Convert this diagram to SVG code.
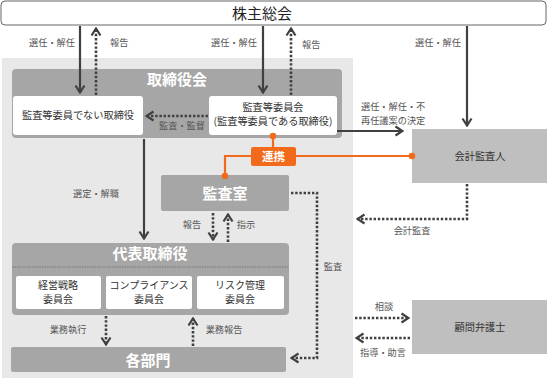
<svg xmlns="http://www.w3.org/2000/svg" width="547" height="380" viewBox="0 0 547 380">
<defs>
<style>
text{font-family:"Noto Sans CJK JP","Noto Sans CJK SC",sans-serif;}
.lbl{font-size:9.2px;fill:#555;}
.ttl{font-size:15px;font-weight:bold;fill:#fff;}
.wt{font-size:10.2px;fill:#333;}
.sb{font-size:10px;fill:#333;}
.solid{stroke:#404040;stroke-width:2.2;fill:none;}
.dot{stroke:#404040;stroke-width:2.6;fill:none;stroke-dasharray:2.4 1.8;}
.or{stroke:#f26b1d;stroke-width:2.2;fill:none;}
</style>
<marker id="ah" viewBox="0 0 10 12" refX="9" refY="6" markerWidth="10" markerHeight="12" markerUnits="userSpaceOnUse" orient="auto">
<path d="M1.5,1.5 L8.5,6 L1.5,10.5" fill="none" stroke="#404040" stroke-width="2.2"/>
</marker>
</defs>
<rect x="0" y="0" width="547" height="380" fill="#fff"/>
<rect id="bg" x="2" y="58" width="351" height="320" fill="#e8e8e8"/>

<g id="shareholders">
<rect x="1" y="1" width="545" height="24" rx="4" fill="#fff" stroke="#666" stroke-width="1"/>
<text x="262" y="18.5" font-size="15" fill="#222" text-anchor="middle">株主総会</text>
</g>

<g id="board">
<rect x="12" y="69" width="330" height="69" rx="4" fill="#a6a6a6"/>
<text class="ttl" x="177" y="85" text-anchor="middle">取締役会</text>
</g>
<g id="nonaudit">
<rect x="13" y="96" width="130" height="39" rx="3" fill="#fff"/>
<text class="wt" x="78" y="119" text-anchor="middle">監査等委員でない取締役</text>
</g>
<g id="auditcommittee">
<rect x="209" y="96" width="128" height="39" rx="3" fill="#fff"/>
<text class="wt" x="273" y="111" text-anchor="middle">監査等委員会</text>
<text class="wt" x="273" y="125" text-anchor="middle">(監査等委員である取締役)</text>
</g>
<g id="accountant">
<rect x="412" y="129" width="135" height="54" fill="#bfbfbf"/>
<text class="wt" x="480" y="160" text-anchor="middle">会計監査人</text>
</g>
<g id="auditoffice">
<rect x="161" y="175" width="128" height="36" rx="2" fill="#a6a6a6"/>
<text class="ttl" x="225" y="198.5" text-anchor="middle">監査室</text>
</g>
<g id="representative">
<rect x="12" y="243" width="277" height="72" rx="4" fill="#a6a6a6"/>
<text class="ttl" x="150" y="259" text-anchor="middle">代表取締役</text>
<line x1="12" y1="267" x2="289" y2="267" stroke="#777" stroke-width="1" stroke-dasharray="1.5 1"/>
</g>
<g id="strategy">
<rect x="16" y="276" width="85" height="33" rx="2" fill="#fff"/>
<text class="sb" x="58" y="289" text-anchor="middle">経営戦略</text>
<text class="sb" x="58" y="303" text-anchor="middle">委員会</text>
</g>
<g id="compliance">
<rect x="106" y="276" width="86" height="33" rx="2" fill="#fff"/>
<text class="sb" x="149" y="289" text-anchor="middle">コンプライアンス</text>
<text class="sb" x="149" y="303" text-anchor="middle">委員会</text>
</g>
<g id="risk">
<rect x="197" y="276" width="87" height="33" rx="2" fill="#fff"/>
<text class="sb" x="240" y="289" text-anchor="middle">リスク管理</text>
<text class="sb" x="240" y="303" text-anchor="middle">委員会</text>
</g>
<g id="departments">
<rect x="11" y="347" width="275" height="25" rx="2" fill="#a6a6a6"/>
<text class="ttl" x="148" y="365.5" text-anchor="middle">各部門</text>
</g>
<g id="lawyer">
<rect x="412" y="300" width="135" height="54" fill="#bfbfbf"/>
<text class="wt" x="480" y="331" text-anchor="middle">顧問弁護士</text>
</g>

<g id="connectors">
<line class="solid" x1="80" y1="26" x2="80" y2="93" marker-end="url(#ah)"/>
<line class="dot" x1="96" y1="95" x2="96" y2="28" marker-end="url(#ah)"/>
<line class="solid" x1="263" y1="26" x2="263" y2="93" marker-end="url(#ah)"/>
<line class="dot" x1="291" y1="95" x2="291" y2="28" marker-end="url(#ah)"/>
<line class="solid" x1="467" y1="26" x2="467" y2="126" marker-end="url(#ah)"/>
<line class="solid" x1="337" y1="131" x2="403" y2="131" marker-end="url(#ah)"/>
<line class="dot" x1="208" y1="116" x2="146" y2="116" marker-end="url(#ah)"/>
<line class="solid" x1="144" y1="139" x2="144" y2="239" marker-end="url(#ah)"/>
<line class="dot" x1="213" y1="213" x2="213" y2="240" marker-end="url(#ah)"/>
<line class="dot" x1="228" y1="242" x2="228" y2="214" marker-end="url(#ah)"/>
<polyline class="dot" points="291,193 317,193 317,358 291,358" marker-end="url(#ah)"/>
<polyline class="dot" points="467,184 467,219 357,219" marker-end="url(#ah)"/>
<line class="dot" x1="106" y1="316" x2="106" y2="345" marker-end="url(#ah)"/>
<line class="dot" x1="193" y1="346" x2="193" y2="318" marker-end="url(#ah)"/>
<line class="dot" x1="355" y1="318" x2="409" y2="318" marker-end="url(#ah)"/>
<line class="dot" x1="410" y1="338" x2="356" y2="338" marker-end="url(#ah)"/>

<line class="or" x1="273" y1="135" x2="273" y2="148"/>
<polyline class="or" points="252,156 225,156 225,176"/>
<line class="or" x1="296" y1="156" x2="412" y2="156"/>
<circle cx="273" cy="136" r="3.3" fill="#f26b1d"/>
<circle cx="225" cy="176" r="3.3" fill="#f26b1d"/>
<circle cx="412" cy="156" r="3.3" fill="#f26b1d"/>
</g>

<g id="renkei">
<rect x="251" y="147" width="45" height="19" rx="2" fill="#f26b1d"/>
<text x="273.5" y="161" font-size="11.5" font-weight="bold" fill="#fff" text-anchor="middle">連携</text>
</g>

<g id="labels">
<text class="lbl" x="52" y="46" text-anchor="middle">選任・解任</text>
<text class="lbl" x="110" y="46">報告</text>
<text class="lbl" x="234" y="46" text-anchor="middle">選任・解任</text>
<text class="lbl" x="302" y="48">報告</text>
<text class="lbl" x="438" y="46" text-anchor="middle">選任・解任</text>
<text class="lbl" x="361" y="109.5" font-size="9">選任・解任・不</text>
<text class="lbl" x="361" y="123.5" font-size="9">再任議案の決定</text>
<text class="lbl" x="182" y="129" text-anchor="middle">監査・監督</text>
<text class="lbl" x="96" y="197" text-anchor="middle">選定・解職</text>
<text class="lbl" x="192" y="228" text-anchor="middle">報告</text>
<text class="lbl" x="246" y="228" text-anchor="middle">指示</text>
<text class="lbl" x="412" y="234" text-anchor="middle">会計監査</text>
<text class="lbl" x="333" y="270" text-anchor="middle">監査</text>
<text class="lbl" x="68" y="333" text-anchor="middle">業務執行</text>
<text class="lbl" x="224" y="333" text-anchor="middle">業務報告</text>
<text class="lbl" x="384" y="310" text-anchor="middle">相談</text>
<text class="lbl" x="383" y="356" text-anchor="middle">指導・助言</text>
</g>
</svg>
